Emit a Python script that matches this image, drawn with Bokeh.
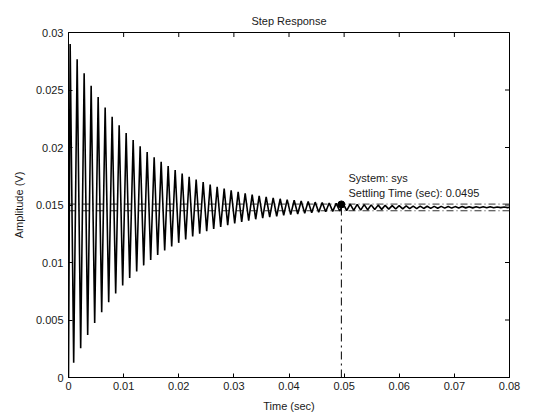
import math
from bokeh.plotting import figure
from bokeh.models import FixedTicker, CustomJSTickFormatter, Range1d
from bokeh.embed import file_html
from bokeh.resources import INLINE

# ---- data ----
peak_t = [0.00030, 0.00157, 0.00284, 0.00411, 0.00538, 0.00665, 0.00792, 0.00919, 0.01046, 0.01173,
          0.01300, 0.01427, 0.01554, 0.01681, 0.01808, 0.01935, 0.02062, 0.02189, 0.02316, 0.02443,
          0.02570, 0.02697, 0.02824, 0.02951, 0.03078, 0.03205, 0.03332, 0.03459, 0.03586, 0.03713,
          0.03840, 0.03967, 0.04094, 0.04221, 0.04348, 0.04475, 0.04602, 0.04729, 0.04856, 0.04983,
          0.05110, 0.05237, 0.05364, 0.05491, 0.05618, 0.05745, 0.05872, 0.05999, 0.06126, 0.06253,
          0.06380, 0.06507, 0.06634, 0.06761, 0.06888, 0.07015, 0.07142, 0.07269, 0.07396, 0.07523,
          0.07650, 0.07777, 0.07904]
peak_y = [0.02900, 0.02767, 0.02646, 0.02537, 0.02438, 0.02348, 0.02267, 0.02193, 0.02126, 0.02065,
          0.02011, 0.01961, 0.01916, 0.01875, 0.01838, 0.01804, 0.01774, 0.01746, 0.01721, 0.01699,
          0.01678, 0.01659, 0.01643, 0.01627, 0.01614, 0.01601, 0.01590, 0.01579, 0.01570, 0.01562,
          0.01554, 0.01547, 0.01541, 0.01535, 0.01530, 0.01525, 0.01521, 0.01517, 0.01514, 0.01511,
          0.01508, 0.01505, 0.01503, 0.01501, 0.01499, 0.01497, 0.01495, 0.01494, 0.01493, 0.01491,
          0.01490, 0.01489, 0.01488, 0.01488, 0.01487, 0.01486, 0.01486, 0.01485, 0.01485, 0.01484,
          0.01484, 0.01483, 0.01483]
trough_t = [0.00094, 0.00221, 0.00348, 0.00475, 0.00602, 0.00729, 0.00856, 0.00983, 0.01110, 0.01237,
            0.01364, 0.01491, 0.01618, 0.01745, 0.01872, 0.01999, 0.02126, 0.02253, 0.02380, 0.02507,
            0.02634, 0.02761, 0.02888, 0.03015, 0.03142, 0.03269, 0.03396, 0.03523, 0.03650, 0.03777,
            0.03904, 0.04031, 0.04158, 0.04285, 0.04412, 0.04539, 0.04666, 0.04793, 0.04920, 0.05047,
            0.05174, 0.05301, 0.05428, 0.05555, 0.05682, 0.05809, 0.05936, 0.06063, 0.06190, 0.06317,
            0.06444, 0.06571, 0.06698, 0.06825, 0.06952, 0.07079, 0.07206, 0.07333, 0.07460, 0.07587,
            0.07714, 0.07841, 0.07968]
trough_y = [0.00128, 0.00255, 0.00370, 0.00474, 0.00568, 0.00654, 0.00731, 0.00801, 0.00865, 0.00923,
            0.00975, 0.01022, 0.01065, 0.01104, 0.01139, 0.01171, 0.01200, 0.01227, 0.01250, 0.01272,
            0.01291, 0.01309, 0.01325, 0.01340, 0.01353, 0.01365, 0.01376, 0.01385, 0.01394, 0.01402,
            0.01410, 0.01416, 0.01422, 0.01428, 0.01432, 0.01437, 0.01441, 0.01445, 0.01448, 0.01451,
            0.01454, 0.01456, 0.01458, 0.01460, 0.01462, 0.01464, 0.01465, 0.01467, 0.01468, 0.01469,
            0.01470, 0.01471, 0.01472, 0.01473, 0.01473, 0.01474, 0.01475, 0.01475, 0.01476, 0.01476,
            0.01476, 0.01477, 0.01477]
start_t, start_y = 0.0, 0.0
end_t, final_value = 0.08, 0.0148
band_upper = 0.01508
band_lower = 0.01450
settle_t = 0.0495
settle_y = 0.01505
x_ticks = [0, 0.01, 0.02, 0.03, 0.04, 0.05, 0.06, 0.07, 0.08]
y_ticks = [0, 0.005, 0.01, 0.015, 0.02, 0.025, 0.03]
x_min, x_max = 0.0, 0.08
y_min, y_max = 0.0, 0.03
title_text = "Step Response"
x_label = "Time (sec)"
y_label = "Amplitude (V)"
info_lines = ["System: sys", "Settling Time (sec): 0.0495"]
info_y = [0.01738, 0.01608]

# ---- assemble response line ----
t = [start_t]
y = [start_y]
for a, b, c, d in zip(peak_t, peak_y, trough_t, trough_y):
    t += [a, c]
    y += [b, d]
t.append(end_t)
y.append(final_value)

FONT = "Liberation Sans"
TXT = "#1a1a1a"

p = figure(width=545, height=414, output_backend="svg", toolbar_location=None,
           x_range=Range1d(x_min, x_max), y_range=Range1d(y_min, y_max),
           min_border_left=68, min_border_right=36, min_border_top=32, min_border_bottom=35)
p.background_fill_color = "white"
p.border_fill_color = "white"
p.outline_line_color = "black"
p.outline_line_width = 1
p.grid.visible = False

p.title.text = title_text
p.title.align = "center"
p.title.text_font = FONT
p.title.text_font_size = "11px"
p.title.text_font_style = "normal"
p.title.text_color = TXT
p.title.offset = 0
p.title.standoff = 11

fmt = CustomJSTickFormatter(code="return Number(tick.toFixed(4)).toString();")

for ax in (p.xaxis[0], p.yaxis[0]):
    ax.major_tick_in = 4
    ax.major_tick_out = 0
    ax.minor_tick_line_color = None
    ax.axis_line_color = "black"
    ax.major_label_text_font = FONT
    ax.major_label_text_font_size = "11px"
    ax.major_label_text_color = TXT
    ax.axis_label_text_font = FONT
    ax.axis_label_text_font_size = "11px"
    ax.axis_label_text_font_style = "normal"
    ax.axis_label_text_color = TXT
    ax.formatter = fmt

p.xaxis[0].ticker = FixedTicker(ticks=x_ticks)
p.yaxis[0].ticker = FixedTicker(ticks=y_ticks)
p.xaxis[0].axis_label = x_label
p.yaxis[0].axis_label = y_label
p.xaxis[0].major_label_standoff = 4
p.xaxis[0].axis_label_standoff = 7
p.yaxis[0].major_label_standoff = 5
p.yaxis[0].axis_label_standoff = 8

# inward ticks on the top and right edges (frame-clipped dash markers)
p.scatter(x_ticks, [y_max] * len(x_ticks), marker="dash", size=9, angle=math.pi / 2,
          line_color="black", line_width=1)
p.scatter([x_max] * len(y_ticks), y_ticks, marker="dash", size=9,
          line_color="black", line_width=1)

# settling bands
for lvl in (band_upper, band_lower):
    p.line([x_min, x_max], [lvl, lvl], line_color="#333333", line_width=1, line_dash="7 3 1 3")

# response
p.line(t, y, line_color="black", line_width=1.6)

# settling time marker
p.line([settle_t, settle_t], [y_min, settle_y], line_color="black", line_width=1, line_dash="8 4 2 4")
p.scatter([settle_t], [settle_y], size=7, fill_color="black", line_color="black")

p.text([settle_t + 0.0013] * 2, info_y, text=info_lines,
       text_font_size="11px", text_color=TXT, text_baseline="middle", text_align="left",
       text_font={"value": FONT})

open("out.html", "w").write(file_html(p, INLINE))
